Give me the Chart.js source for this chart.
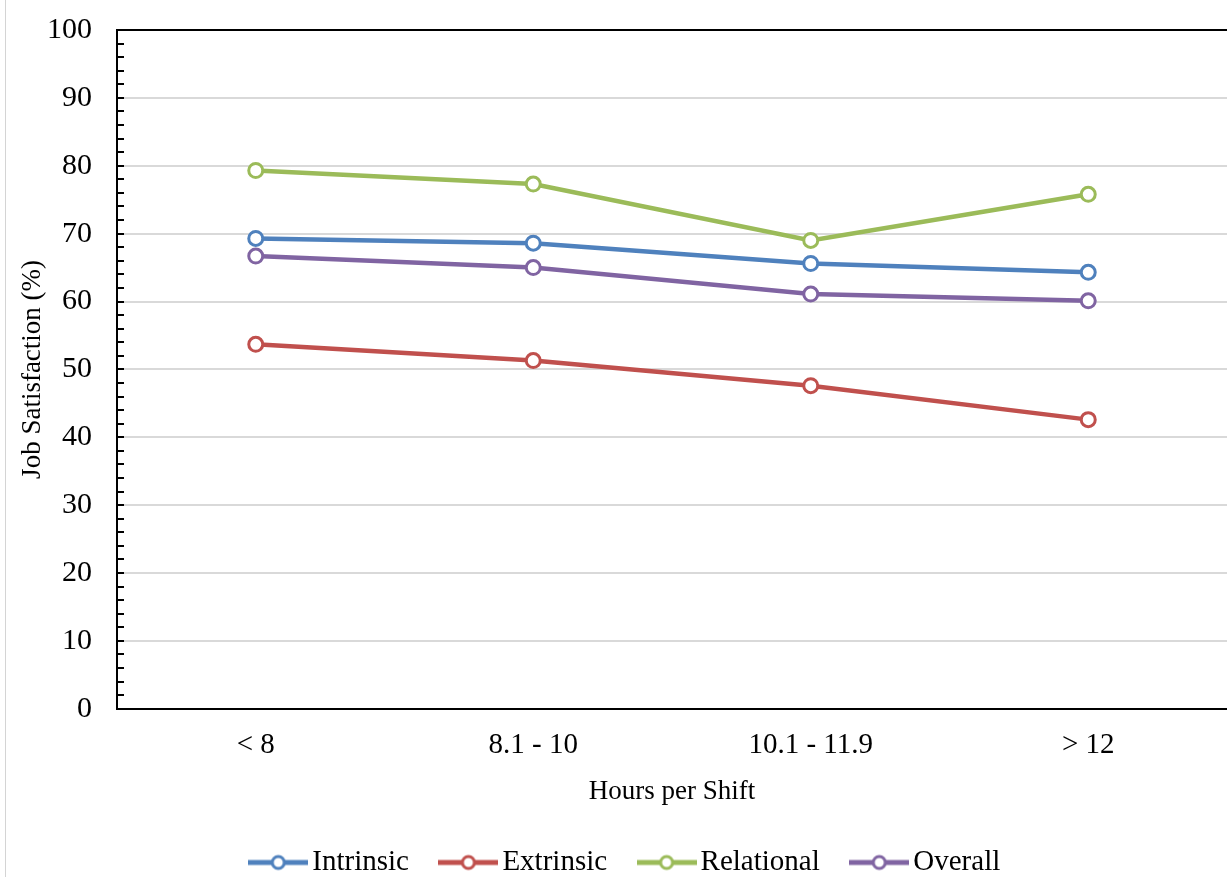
<!DOCTYPE html>
<html>
<head>
<meta charset="utf-8">
<script src="https://cdn.jsdelivr.net/npm/chart.js@4"></script>
<style>
    html, body { margin: 0; padding: 0; background: #fff; }
    #wrap { position: relative; width: 1227px; height: 877px; }
    #borde { position: absolute; left: 5px; top: 0; width: 1px; height: 877px; background: #d4d4d4; }
</style>
</head>
<body>
<div id="wrap">
    <div id="borde"></div>
    <canvas id="grafico" width="1227" height="877"></canvas>
</div>
<script>
// Datos
const horas = ['< 8', '8.1 - 10', '10.1 - 11.9', '> 12'];
const intrinsic = [69.3, 68.6, 65.6, 64.3];
const extrinsic = [53.7, 51.3, 47.6, 42.6];
const relational = [79.3, 77.3, 69.0, 75.8];
const overall = [66.7, 65.0, 61.1, 60.1];
const yMin = 0, yMax = 100, yPaso = 10, yPasoMenor = 2;

const series = [
    { nombre: 'Intrinsic', datos: intrinsic, color: '#4F81BD' },
    { nombre: 'Extrinsic', datos: extrinsic, color: '#C0504D' },
    { nombre: 'Relational', datos: relational, color: '#9BBB59' },
    { nombre: 'Overall', datos: overall, color: '#8064A2' }
];

const fuente = "'Liberation Serif', 'Times New Roman', serif";

// Marcador de leyenda: línea con círculo
function marcador(color) {
    const c = document.createElement('canvas');
    c.width = 60; c.height = 20;
    const g = c.getContext('2d');
    g.strokeStyle = color;
    g.lineWidth = 5;
    g.beginPath(); g.moveTo(0, 10); g.lineTo(60, 10); g.stroke();
    g.beginPath(); g.arc(30, 10, 6, 0, Math.PI * 2);
    g.fillStyle = '#fff'; g.fill();
    g.lineWidth = 3; g.stroke();
    return c;
}
const marcadores = series.map(s => marcador(s.color));

// Marcas menores del eje Y y borde superior
const marcasMenores = {
    id: 'marcasMenores',
    beforeDatasetsDraw(chart) {
        const { ctx, chartArea: a, scales: { y } } = chart;
        ctx.save();
        ctx.strokeStyle = '#000';
        ctx.lineWidth = 2;
        ctx.beginPath();
        for (let v = yMin + yPasoMenor; v < yMax; v += yPasoMenor) {
            const py = Math.round(y.getPixelForValue(v));
            ctx.moveTo(a.left, py);
            ctx.lineTo(a.left + 7, py);
        }
        ctx.moveTo(a.left, a.top);
        ctx.lineTo(a.right, a.top);
        ctx.stroke();
        ctx.restore();
    }
};

new Chart(document.getElementById('grafico'), {
    type: 'line',
    data: {
        labels: horas,
        datasets: series.map(s => ({
            label: s.nombre,
            data: s.datos,
            borderColor: s.color,
            backgroundColor: '#fff',
            borderWidth: 4.5,
            pointRadius: 7,
            pointHoverRadius: 7,
            pointBorderWidth: 3,
            pointBackgroundColor: '#fff',
            pointBorderColor: s.color,
            tension: 0
        }))
    },
    options: {
        responsive: false,
        animation: false,
        layout: { autoPadding: false, padding: { left: 32, right: 0, top: 30, bottom: -10 } },
        plugins: {
            tooltip: { enabled: false },
            legend: {
                position: 'bottom',
                labels: {
                    usePointStyle: true,
                    pointStyleWidth: 39,
                    padding: 40,
                    color: '#000',
                    font: { family: fuente, size: 29 },
                    generateLabels(chart) {
                        const base = Chart.defaults.plugins.legend.labels.generateLabels(chart);
                        return base.map((it, i) => ({ ...it, pointStyle: marcadores[i] }));
                    }
                }
            }
        },
        scales: {
            x: {
                offset: true,
                afterFit(scale) { scale.paddingLeft = 0; scale.paddingRight = 0; },
                grid: { drawOnChartArea: false, drawTicks: false },
                border: { color: '#000', width: 2 },
                ticks: { color: '#000', padding: 19, font: { family: fuente, size: 29 } },
                title: { display: true, text: 'Hours per Shift', color: '#000', padding: { top: -6, bottom: 0 }, font: { family: fuente, size: 27 } }
            },
            y: {
                min: yMin,
                max: yMax,
                afterFit(scale) { scale.width = 85; scale.paddingTop = 0; scale.paddingBottom = 0; },
                grid: { color: '#d9d9d9', lineWidth: 2, drawTicks: false },
                border: { color: '#000', width: 2 },
                ticks: { stepSize: yPaso, color: '#000', padding: 25, font: { family: fuente, size: 30 } },
                title: { display: true, text: 'Job Satisfaction (%)', color: '#000', padding: { top: -15, bottom: 0 }, font: { family: fuente, size: 27 } }
            }
        }
    },
    plugins: [marcasMenores]
});
</script>
</body>
</html>
